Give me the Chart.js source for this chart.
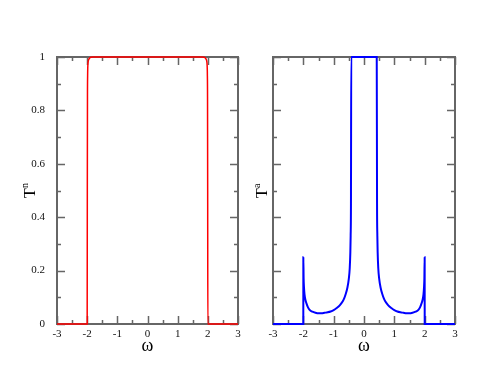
<!DOCTYPE html>
<html>
<head>
<meta charset="utf-8">
<script src="https://cdn.jsdelivr.net/npm/chart.js@4.4.0/dist/chart.umd.min.js"></script>
<style>
  body { margin: 0; background: #fff; }
  canvas { position: absolute; top: 0; }
  #left { left: 0; }
  #right { left: 245px; }
</style>
</head>
<body>
<canvas id="left" width="245" height="382"></canvas>
<canvas id="right" width="246" height="382"></canvas>
<script>
// normal transmission T^n
const omegaN = [-3, -2.01, -2, -1.995, -1.99, -1.985, -1.98, -1.97, -1.95, -1.92, -1.88, -1.8, 0,
                1.8, 1.88, 1.92, 1.95, 1.97, 1.98, 1.985, 1.99, 1.995, 2, 2.01, 3];
const tN = [0, 0, 0, 0.5, 0.85, 0.93, 0.96, 0.98, 0.99, 0.996, 0.999, 1, 1,
            1, 0.999, 0.996, 0.99, 0.98, 0.96, 0.93, 0.85, 0.5, 0, 0, 0];

// andreev transmission T^a (shown clipped at 1 around the centre)
const omegaA = [-3, -2.001, -2, -1.99, -1.98, -1.96, -1.93, -1.9, -1.85, -1.8, -1.7, -1.6, -1.5, -1.4,
                -1.3, -1.2, -1.1, -1.0, -0.9, -0.8, -0.7, -0.65, -0.6, -0.55, -0.5, -0.47, -0.45,
                -0.44, -0.43, -0.42, 0,
                0.42, 0.43, 0.44, 0.45, 0.47, 0.5, 0.55, 0.6, 0.65, 0.7, 0.8, 0.9, 1.0, 1.1, 1.2,
                1.3, 1.4, 1.5, 1.6, 1.7, 1.8, 1.85, 1.9, 1.93, 1.96, 1.98, 1.99, 2, 2.001, 3];
const tA = [0, 0, 0.25, 0.17, 0.14, 0.11, 0.09, 0.078, 0.063, 0.054, 0.046, 0.042, 0.04, 0.04,
            0.042, 0.044, 0.047, 0.052, 0.06, 0.07, 0.085, 0.097, 0.113, 0.135, 0.17, 0.21, 0.27,
            0.33, 0.45, 1, 1,
            1, 0.45, 0.33, 0.27, 0.21, 0.17, 0.135, 0.113, 0.097, 0.085, 0.07, 0.06, 0.052, 0.047, 0.044,
            0.042, 0.04, 0.04, 0.042, 0.046, 0.054, 0.063, 0.078, 0.09, 0.11, 0.14, 0.17, 0.25, 0, 0];

const xMajor = [-3, -2, -1, 0, 1, 2, 3];
const xMinor = [-2.5, -1.5, -0.5, 0.5, 1.5, 2.5];
const yMajor = [0, 0.2, 0.4, 0.6, 0.8, 1];
const yMinor = [0.1, 0.3, 0.5, 0.7, 0.9];

const serif = "'Liberation Serif', 'Times New Roman', serif";
const frameColor = '#666';

// frame with inward ticks on all four sides, plus axis titles
const framePlugin = {
  id: 'frame',
  beforeDatasetsDraw(chart) {
    const { ctx, chartArea: a, scales: { x, y } } = chart;
    ctx.save();
    ctx.strokeStyle = frameColor;
    ctx.lineWidth = 2;
    ctx.strokeRect(a.left, a.top, a.right - a.left, a.bottom - a.top);
    ctx.lineWidth = 1.5;
    ctx.beginPath();
    const xt = (v, len) => {
      const px = Math.round(x.getPixelForValue(v)) + 0.5;
      ctx.moveTo(px, a.bottom); ctx.lineTo(px, a.bottom - len);
      ctx.moveTo(px, a.top); ctx.lineTo(px, a.top + len);
    };
    const yt = (v, len) => {
      const py = Math.round(y.getPixelForValue(v)) + 0.5;
      ctx.moveTo(a.left, py); ctx.lineTo(a.left + len, py);
      ctx.moveTo(a.right, py); ctx.lineTo(a.right - len, py);
    };
    xMajor.forEach(v => xt(v, 8));
    xMinor.forEach(v => xt(v, 4));
    yMajor.forEach(v => yt(v, 8));
    yMinor.forEach(v => yt(v, 4));
    ctx.stroke();
    ctx.restore();
  },
  afterDraw(chart, args, opts) {
    const { ctx, chartArea: a } = chart;
    ctx.save();
    ctx.fillStyle = '#000';
    ctx.textAlign = 'center';
    ctx.textBaseline = 'middle';
    ctx.font = '18px ' + serif;
    ctx.fillText('\u03c9', (a.left + a.right) / 2, 346);
    // rotated y title with superscript
    ctx.translate(opts.titleX, 193);
    ctx.rotate(-Math.PI / 2);
    ctx.font = '16px ' + serif;
    ctx.fillText('T', 0, 0);
    ctx.font = '10px ' + serif;
    ctx.textAlign = 'left';
    ctx.fillText(opts.sup, 5, -6);
    ctx.restore();
  }
};

function makeChart(id, xs, ys, color, width, axisWidth, padRight, showY, titleX, sup) {
  const points = xs.map((v, i) => ({ x: v, y: ys[i] }));
  new Chart(document.getElementById(id), {
    type: 'line',
    data: {
      datasets: [{
        data: points,
        borderColor: color,
        borderWidth: width,
        pointRadius: 0,
        cubicInterpolationMode: 'monotone',
        clip: 4,
        fill: false
      }]
    },
    options: {
      responsive: false,
      animation: false,
      layout: { padding: { top: 57, right: padRight, left: 0, bottom: 0 } },
      plugins: {
        legend: { display: false },
        tooltip: { enabled: false },
        frame: { titleX: titleX, sup: sup }
      },
      scales: {
        x: {
          type: 'linear',
          min: -3, max: 3,
          grid: { display: false },
          border: { display: false },
          ticks: { stepSize: 1, padding: -4, color: '#111', font: { family: serif, size: 11 } },
          afterFit: s => { s.height = 58; }
        },
        y: {
          min: 0, max: 1,
          grid: { display: false },
          border: { display: false },
          ticks: {
            display: showY, stepSize: 0.2, padding: 4, color: '#111',
            font: { family: serif, size: 11 },
            callback: v => String(+v.toFixed(1))
          },
          afterFit: s => { s.width = axisWidth; }
        }
      }
    },
    plugins: [framePlugin]
  });
}

makeChart('left', omegaN, tN, '#ff0000', 1.5, 57, 7, true, 31, 'n');
makeChart('right', omegaA, tA, '#0000ff', 2, 28, 36, false, 18, 'a');
</script>
</body>
</html>
